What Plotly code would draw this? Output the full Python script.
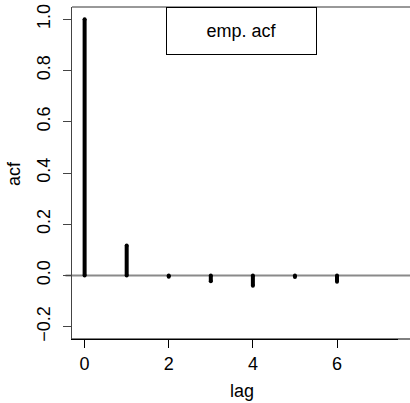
import plotly.graph_objects as go

lags = [0, 1, 2, 3, 4, 5, 6]
acf_vals = [1.0, 0.117, -0.005, -0.023, -0.040, -0.006, -0.025]
x_ticks = [0, 2, 4, 6]
y_ticks = [-0.2, 0.0, 0.2, 0.4, 0.6, 0.8, 1.0]
legend_label = "emp. acf"
x_title = "lag"
y_title = "acf"

FONT = "Liberation Sans, Arial, Helvetica, sans-serif"

xs, ys = [], []
for l, v in zip(lags, acf_vals):
    xs += [l, l, None]
    ys += [0, v, None]

fig = go.Figure()
fig.add_trace(go.Scatter(x=xs, y=ys, mode="lines+markers",
                         line=dict(color="black", width=4),
                         marker=dict(color="black", size=4, symbol="circle"),
                         showlegend=False, connectgaps=False))

EXT = 1.04  # box lines continue to the window edge

fig.update_layout(
    width=410, height=403,
    margin=dict(l=72, r=12, t=7, b=64, autoexpand=False),
    paper_bgcolor="white", plot_bgcolor="white",
    font=dict(family=FONT, size=18, color="black"),
    showlegend=False,
    xaxis=dict(range=[-0.30, 7.45], tickvals=x_ticks, ticktext=[str(t) for t in x_ticks],
               showgrid=False, zeroline=False, showline=True, linecolor="black",
               linewidth=1, mirror=False, ticks="outside", ticklen=8, tickcolor="black",
               tickfont=dict(size=18), automargin=False),
    yaxis=dict(range=[-0.248, 1.048], tickvals=y_ticks,
               ticktext=[f"{t:.1f}".replace("-", "\u2212") for t in y_ticks],
               showgrid=False, zeroline=False, showline=True, linecolor="#444444",
               linewidth=1, mirror=False, ticks="outside", ticklen=8, tickcolor="#444444",
               tickangle=-90, tickfont=dict(size=18), ticklabelstandoff=6,
               automargin=False),
    shapes=[
        dict(type="line", xref="paper", yref="paper", x0=0, x1=EXT, y0=1, y1=1,
             line=dict(color="#333333", width=1)),
        dict(type="line", xref="paper", yref="paper", x0=0, x1=EXT, y0=0, y1=0,
             line=dict(color="black", width=1)),
        dict(type="line", xref="paper", yref="y", x0=-0.02, x1=EXT, y0=0, y1=0,
             line=dict(color="#8a8a8a", width=2), layer="below"),
    ],
    annotations=[
        dict(text=legend_label, xref="paper", yref="paper",
             x=0.52, y=0.928, xanchor="center", yanchor="middle",
             showarrow=False, width=147, height=44,
             bordercolor="black", borderwidth=1, bgcolor="white",
             font=dict(size=18)),
        dict(text=x_title, xref="paper", yref="paper", x=0.5215, y=-0.1566,
             xanchor="center", yanchor="middle", showarrow=False,
             font=dict(size=18)),
        dict(text=y_title, xref="paper", yref="paper", x=-0.178, y=0.5,
             xanchor="center", yanchor="middle", showarrow=False, textangle=-90,
             font=dict(size=18)),
    ],
)

fig.write_html("out.html")
